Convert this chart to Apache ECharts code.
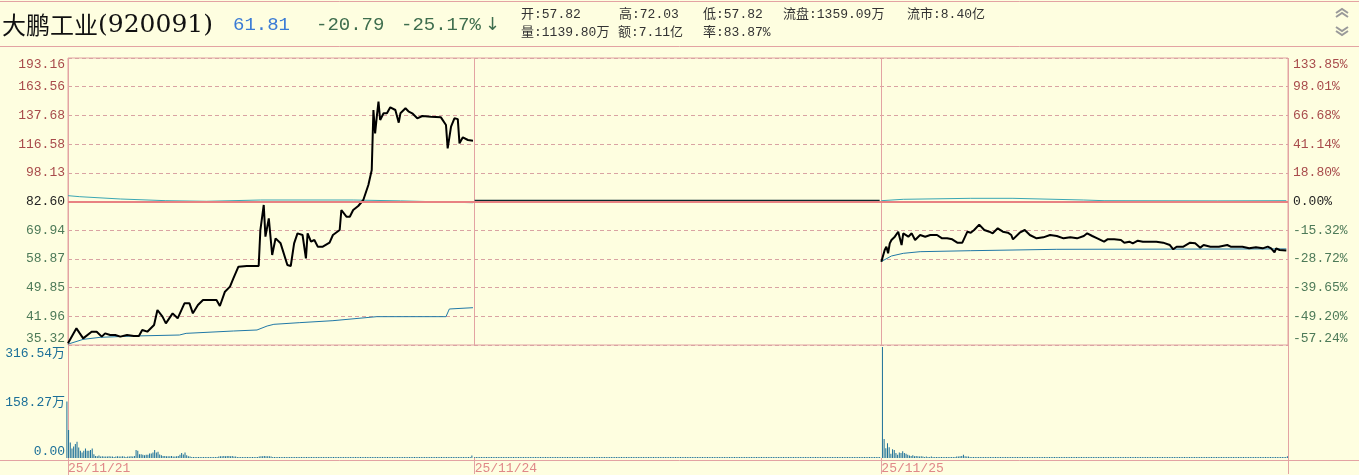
<!DOCTYPE html>
<html>
<head>
<meta charset="utf-8">
<title>大鹏工业(920091)</title>
<script src="https://cdn.jsdelivr.net/npm/echarts@6.0.0/dist/echarts.min.js"></script>
<style>
  html, body { margin: 0; padding: 0; background: #fefee0; }
  #chart { width: 1359px; height: 475px; }
</style>
</head>
<body>
<div id="chart"></div>
<script>
// 坐标刻度
var priceTicks = [35.32, 41.96, 49.85, 58.87, 69.94, 82.60, 98.13, 116.58, 137.68, 163.56, 193.16];
var pctTicks = ['-57.24%', '-49.20%', '-39.65%', '-28.72%', '-15.32%', '0.00%', '18.80%', '41.14%', '66.68%', '98.01%', '133.85%'];
var volTicks = ['0.00', '158.27万', '316.54万'];
var volMax = 316.54;
var dateLabels = ['25/11/21', '25/11/24', '25/11/25'];
var preClose = 82.60;
var dayLen = 241;

// 分时价格 [分钟, 价格]
var day1Price = [[0, 35.67], [5, 38.98], [7, 37.84], [9, 36.74], [14, 38.22], [17, 38.22], [20, 37.11], [22, 37.84],
  [25, 37.47], [28, 37.47], [31, 37.11], [35, 37.47], [39, 37.25], [42, 37.25], [44, 38.60], [47, 38.22],
  [51, 39.76], [53, 43.45], [56, 41.77], [58, 40.15], [62, 42.60], [65, 41.36], [69, 45.20], [72, 45.20],
  [74, 42.60], [77, 44.76], [80, 46.10], [88, 46.10], [90, 44.49], [93, 48.43], [96, 49.89], [98, 52.41],
  [101, 56.16], [106, 56.38], [113, 56.38], [114, 69.77], [116, 80.90], [117, 67.07], [119, 74.77], [121, 60.17],
  [123, 66.41], [126, 64.48], [130, 56.72], [132, 56.38], [134, 64.48], [136, 68.41], [139, 67.74], [141, 59.00],
  [142, 68.41], [144, 65.12], [146, 65.77], [148, 63.22], [151, 63.22], [155, 64.73], [157, 67.74], [161, 69.77],
  [162, 78.54], [165, 75.50], [167, 75.50], [169, 78.54], [172, 80.43], [175, 83.33], [178, 91.07], [180, 99.53],
  [181, 141.98], [182, 123.66], [183, 136.49], [184, 149.17], [185, 133.82], [187, 139.21], [189, 139.21], [191, 144.24],
  [194, 141.98], [196, 131.73], [197, 139.21], [200, 143.39], [202, 140.57], [204, 139.21], [207, 135.15], [210, 137.02],
  [215, 136.49], [221, 135.95], [224, 129.91], [225, 113.15], [227, 128.63], [229, 135.15], [231, 134.50], [232, 116.55],
  [234, 120.77], [237, 118.87], [240, 118.41]];
var day2Price = [[0, 82.95], [240, 82.95]];
var day3Price = [[0, 57.82], [2, 61.98], [3, 63.22], [4, 60.77], [5, 64.48], [6, 65.77], [8, 67.07], [10, 69.08],
  [12, 63.84], [13, 68.41], [14, 67.74], [16, 67.07], [18, 68.41], [20, 65.77], [23, 67.74], [26, 67.07],
  [29, 67.74], [33, 67.74], [36, 66.41], [39, 66.41], [42, 66.02], [45, 64.73], [48, 64.73], [51, 69.08],
  [53, 68.68], [55, 69.77], [58, 72.03], [61, 69.77], [64, 69.08], [66, 68.41], [69, 70.47], [72, 69.08],
  [75, 68.68], [77, 67.74], [78, 66.02], [82, 68.68], [85, 69.77], [88, 67.74], [92, 66.41], [96, 66.81],
  [100, 67.74], [104, 67.34], [108, 66.41], [112, 66.81], [116, 66.41], [120, 67.34], [122, 68.41], [125, 67.34],
  [128, 66.41], [132, 65.12], [134, 66.02], [138, 66.02], [142, 65.77], [144, 64.73], [147, 65.12], [149, 64.48],
  [152, 65.50], [155, 65.12], [159, 65.12], [163, 65.12], [167, 64.73], [171, 63.84], [173, 62.23], [175, 63.22],
  [179, 63.22], [183, 64.73], [186, 64.48], [189, 62.85], [191, 63.84], [195, 63.22], [200, 63.22], [205, 63.84],
  [207, 63.22], [210, 63.22], [214, 63.22], [218, 62.60], [222, 62.98], [226, 62.60], [229, 63.22], [231, 62.60],
  [233, 61.13], [234, 62.60], [236, 61.98], [240, 61.81]];

// 均价线
var day1Avg = [[0, 35.50], [9, 36.52], [19, 36.96], [39, 37.25], [66, 37.47], [70, 37.84], [98, 38.37], [112, 38.60],
  [118, 39.52], [122, 39.92], [137, 40.31], [157, 40.79], [183, 41.77], [224, 41.77], [226, 43.71], [240, 44.05]];
var day3Avg = [[0, 57.90], [6, 59.82], [13, 60.77], [23, 61.37], [53, 61.73], [104, 62.23], [240, 62.38]];

// 叠加指数(折算到价格)
var day1Index = [[0, 85.50], [7, 84.98], [31, 83.83], [58, 83.00], [82, 82.70], [114, 83.33], [169, 83.33], [197, 82.91], [240, 82.00]];
var day2Index = [[0, 82.50], [40, 82.30], [80, 82.50], [120, 82.30], [160, 82.40], [200, 82.50], [240, 82.40]];
var day3Index = [[0, 83.00], [13, 83.68], [53, 84.17], [78, 84.17], [120, 83.33], [132, 83.00], [199, 82.91], [240, 83.00]];

// 成交量(万), 每分钟一根
var day1Vol = [161, 80, 44, 27, 33, 40, 46, 30, 21, 16, 21, 27, 21, 21, 23, 27, 11, 6, 5, 7,
  4, 5, 4, 4, 4, 5, 4, 4, 3, 4, 5, 4, 4, 5, 4, 3, 4, 4, 5, 4,
  6, 23, 21, 11, 11, 9, 8, 9, 9, 13, 13, 16, 23, 16, 18, 10, 8, 6, 6, 5,
  5, 5, 6, 4, 4, 5, 6, 9, 14, 10, 16, 8, 5, 4, 3, 3, 3, 3, 2, 3,
  2, 3, 2, 2, 3, 2, 2, 3, 2, 3, 4, 5, 5, 6, 5, 6, 6, 5, 6, 4,
  4, 3, 2, 2, 2, 2, 2, 2, 2, 2, 2, 2, 3, 3, 4, 5, 5, 6, 5, 5,
  5, 4, 3, 2, 2, 2, 1, 2, 1, 2, 2, 1, 2, 2, 1, 2, 1, 2, 2, 1,
  2, 1, 1, 2, 2, 1, 2, 1, 2, 2, 1, 2, 1, 1, 2, 2, 1, 2, 2, 1,
  1, 2, 2, 1, 2, 1, 2, 2, 1, 2, 1, 1, 2, 2, 1, 2, 2, 1, 2, 1,
  2, 2, 1, 2, 1, 2, 2, 1, 1, 2, 2, 1, 2, 1, 2, 2, 1, 2, 1, 2,
  2, 1, 2, 2, 1, 2, 1, 1, 2, 2, 1, 2, 2, 1, 2, 1, 2, 2, 1, 2,
  1, 2, 2, 1, 2, 2, 1, 2, 1, 2, 2, 1, 2, 1, 2, 2, 1, 2, 1, 2,
  7];
var day2Vol = [1, 1, 1, 1, 1, 1, 1, 1, 1, 1, 1, 1, 1, 1, 1, 1, 1, 1, 1, 1,
  1, 1, 1, 1, 1, 1, 1, 1, 1, 1, 1, 1, 1, 1, 1, 1, 1, 1, 1, 1,
  1, 1, 1, 1, 1, 1, 1, 1, 1, 1, 1, 1, 1, 1, 1, 1, 1, 1, 1, 1,
  1, 1, 1, 1, 1, 1, 1, 1, 1, 1, 1, 1, 1, 1, 1, 1, 1, 1, 1, 1,
  1, 1, 1, 1, 1, 1, 1, 1, 1, 1, 1, 1, 1, 1, 1, 1, 1, 1, 1, 1,
  1, 1, 1, 1, 1, 1, 1, 1, 1, 1, 1, 1, 1, 1, 1, 1, 1, 1, 1, 1,
  1, 1, 1, 1, 1, 1, 1, 1, 1, 1, 1, 1, 1, 1, 1, 1, 1, 1, 1, 1,
  1, 1, 1, 1, 1, 1, 1, 1, 1, 1, 1, 1, 1, 1, 1, 1, 1, 1, 1, 1,
  1, 1, 1, 1, 1, 1, 1, 1, 1, 1, 1, 1, 1, 1, 1, 1, 1, 1, 1, 1,
  1, 1, 1, 1, 1, 1, 1, 1, 1, 1, 1, 1, 1, 1, 1, 1, 1, 1, 1, 1,
  1, 1, 1, 1, 1, 1, 1, 1, 1, 1, 1, 1, 1, 1, 1, 1, 1, 1, 1, 1,
  1, 1, 1, 1, 1, 1, 1, 1, 1, 1, 1, 1, 1, 1, 1, 1, 1, 1, 1, 1,
  1];
var day3Vol = [316.54, 54, 28, 42, 31, 12, 25, 23, 14, 9, 16, 14, 19, 14, 12, 9, 7, 6, 8, 5,
  6, 5, 4, 5, 4, 3, 4, 3, 3, 4, 3, 3, 2, 3, 3, 2, 3, 2, 3, 3,
  3, 2, 3, 3, 4, 4, 5, 6, 9, 5, 4, 4, 3, 3, 2, 3, 2, 2, 3, 2,
  2, 3, 2, 2, 3, 2, 2, 2, 3, 2, 2, 2, 3, 2, 2, 3, 2, 2, 2, 3,
  2, 2, 3, 2, 2, 2, 3, 2, 2, 2, 2, 3, 2, 2, 2, 3, 2, 2, 3, 2,
  2, 2, 2, 3, 2, 2, 2, 2, 3, 2, 2, 2, 2, 3, 2, 2, 2, 3, 2, 2,
  2, 3, 2, 2, 2, 2, 3, 2, 2, 2, 2, 2, 3, 2, 2, 2, 3, 2, 2, 2,
  2, 2, 3, 2, 2, 2, 2, 3, 2, 2, 2, 2, 2, 3, 2, 2, 2, 2, 3, 2,
  2, 2, 2, 3, 2, 2, 2, 2, 2, 3, 2, 2, 2, 2, 3, 2, 2, 2, 2, 2,
  3, 2, 2, 2, 2, 2, 3, 2, 2, 2, 2, 3, 2, 2, 2, 2, 2, 3, 2, 2,
  2, 2, 3, 2, 2, 2, 2, 2, 3, 2, 2, 2, 2, 3, 2, 2, 2, 2, 2, 3,
  2, 2, 2, 2, 3, 2, 2, 2, 2, 3, 2, 2, 2, 2, 2, 3, 2, 2, 2, 2,
  5];

var upColor = '#a84b4b';
var downColor = '#4d7a58';
var frameColor = '#e3a3a3';
var gridColor = '#d9a3a3';
var monoFont = '"Liberation Mono", "Noto Sans CJK SC", monospace';

// 对数价格 -> 刻度序号(0..10)
var logSpan = Math.log(priceTicks[10] / priceTicks[0]);
function pos(p) {
  return 10 * Math.log(p / priceTicks[0]) / logSpan;
}
function toLine(list, day) {
  return list.map(function (d) { return [d[0] + day * dayLen, pos(d[1])]; });
}
function toBars(list, day) {
  return list.map(function (v, i) { return [i + day * dayLen, v]; });
}
function styled(i, text) {
  var key = i > 5 ? 'u' : (i < 5 ? 'd' : 'z');
  return '{' + key + '|' + text + '}';
}
var labelRich = {
  u: { color: upColor, fontFamily: monoFont, fontSize: 13 },
  d: { color: downColor, fontFamily: monoFont, fontSize: 13 },
  z: { color: '#222', fontFamily: monoFont, fontSize: 13 }
};

function priceLine(data, color, width, z) {
  return {
    type: 'line', xAxisIndex: 0, yAxisIndex: 0, data: data,
    symbol: 'none', showSymbol: false, z: z, silent: true,
    lineStyle: { color: color, width: width }
  };
}

var chart = echarts.init(document.getElementById('chart'));

var indexColor = '#3aa7b4';
var avgColor = '#2078a6';

var series = [
  priceLine(toLine(day1Index, 0), indexColor, 1, 2),
  priceLine(toLine(day2Index, 1), indexColor, 1, 2),
  priceLine(toLine(day3Index, 2), indexColor, 1, 2),
  priceLine(toLine(day1Avg, 0), avgColor, 1, 3),
  priceLine(toLine(day3Avg, 2), avgColor, 1, 3),
  priceLine(toLine(day1Price, 0), '#000', 2, 4),
  priceLine(toLine(day2Price, 1), '#0b2a2e', 2, 4),
  priceLine(toLine(day3Price, 2), '#000', 2, 4)
];
series[0].markLine = {
  silent: true, symbol: 'none', label: { show: false },
  lineStyle: { color: '#e88282', width: 2, type: 'solid' },
  data: [{ yAxis: pos(preClose) }]
};
series[0].z = 1;

[day1Vol, day2Vol, day3Vol].forEach(function (vol, day) {
  series.push({
    type: 'bar', xAxisIndex: 1, yAxisIndex: 2, data: toBars(vol, day),
    barWidth: 1, barMinHeight: 1, silent: true,
    itemStyle: { color: '#1b6f98' }
  });
});

var option = {
  animation: false,
  backgroundColor: '#fefee0',
  grid: [
    { left: 68, top: 58, width: 1220, height: 287, show: true, borderColor: frameColor, borderWidth: 1 },
    { left: 68, top: 347, width: 1220, height: 112 }
  ],
  xAxis: [
    {
      type: 'value', gridIndex: 0, min: 0, max: dayLen * 3, interval: dayLen,
      axisLine: { show: false }, axisTick: { show: false }, axisLabel: { show: false },
      splitLine: { show: true, lineStyle: { color: frameColor, width: 1 } }
    },
    {
      type: 'value', gridIndex: 1, min: 0, max: dayLen * 3, interval: dayLen,
      axisLine: { show: false }, splitLine: { show: false },
      axisTick: { show: true, length: 16, lineStyle: { color: frameColor } },
      axisLabel: {
        align: 'left', margin: 4, color: '#e08888', fontSize: 13, fontFamily: monoFont,
        formatter: function (v) { return dateLabels[Math.round(v / dayLen)] || ''; }
      }
    }
  ],
  yAxis: [
    {
      type: 'value', gridIndex: 0, position: 'left', min: 0, max: 10, interval: 1,
      axisLine: { show: false }, axisTick: { show: false },
      splitLine: { show: true, lineStyle: { color: gridColor, type: [4, 3], width: 1 } },
      axisLabel: {
        margin: 3, rich: labelRich,
        verticalAlignMinLabel: 'bottom', verticalAlignMaxLabel: 'top',
        formatter: function (v) { var i = Math.round(v); return styled(i, priceTicks[i].toFixed(2)); }
      }
    },
    {
      type: 'value', gridIndex: 0, position: 'right', min: 0, max: 10, interval: 1,
      axisLine: { show: false }, axisTick: { show: false }, splitLine: { show: false },
      axisLabel: {
        margin: 5, rich: labelRich,
        verticalAlignMinLabel: 'bottom', verticalAlignMaxLabel: 'top',
        formatter: function (v) { var i = Math.round(v); return styled(i, pctTicks[i]); }
      }
    },
    {
      type: 'value', gridIndex: 1, min: 0, max: volMax, interval: volMax / 2,
      axisLine: { show: false }, axisTick: { show: false }, splitLine: { show: false },
      axisLabel: {
        margin: 3, color: '#1b6f98', fontSize: 13, fontFamily: monoFont,
        verticalAlignMinLabel: 'bottom', verticalAlignMaxLabel: 'top',
        formatter: function (v) { return volTicks[Math.round(v / (volMax / 2))]; }
      }
    }
  ],
  graphic: [
    { type: 'rect', shape: { x: 0, y: 0, width: 1359, height: 47 }, style: { fill: '#fefee0' }, z: -1 },
    { type: 'line', shape: { x1: 0, y1: 1.5, x2: 1359, y2: 1.5 }, style: { stroke: frameColor, lineWidth: 1 } },
    { type: 'line', shape: { x1: 0, y1: 46.5, x2: 1359, y2: 46.5 }, style: { stroke: frameColor, lineWidth: 1 } },
    { type: 'line', shape: { x1: 68.5, y1: 345, x2: 68.5, y2: 475 }, style: { stroke: frameColor, lineWidth: 1 } },
    { type: 'line', shape: { x1: 1288.5, y1: 345, x2: 1288.5, y2: 461 }, style: { stroke: frameColor, lineWidth: 1 } },
    { type: 'line', shape: { x1: 0, y1: 460.5, x2: 1359, y2: 460.5 }, style: { stroke: frameColor, lineWidth: 1 } },
    {
      type: 'text', x: 2, y: 25,
      style: {
        text: '{n|大鹏工业}{c|(920091)}', verticalAlign: 'middle', textVerticalAlign: 'middle',
        rich: {
          n: { fontSize: 24, fontFamily: '"Noto Sans CJK SC"', fill: '#111' },
          c: { fontSize: 25, fontFamily: '"DejaVu Serif"', fill: '#111' }
        }
      }
    },
    { type: 'text', x: 233, y: 25, style: { text: '61.81', font: '19px "Liberation Mono"', fill: '#3a7bd5', verticalAlign: 'middle', textVerticalAlign: 'middle' } },
    { type: 'text', x: 316, y: 25, style: { text: '-20.79', font: '19px "Liberation Mono"', fill: '#3f6e4e', verticalAlign: 'middle', textVerticalAlign: 'middle' } },
    { type: 'text', x: 401, y: 25, style: { text: '-25.17%', font: '19px "Liberation Mono"', fill: '#3f6e4e', verticalAlign: 'middle', textVerticalAlign: 'middle' } },
    { type: 'text', x: 485, y: 25, style: { text: '↓', font: '18px "DejaVu Sans"', fill: '#3f6e4e', verticalAlign: 'middle', textVerticalAlign: 'middle' } },
    { type: 'text', x: 521, y: 15, style: { text: '开:57.82', font: '13px ' + monoFont, fill: '#333', verticalAlign: 'middle', textVerticalAlign: 'middle' } },
    { type: 'text', x: 619, y: 15, style: { text: '高:72.03', font: '13px ' + monoFont, fill: '#333', verticalAlign: 'middle', textVerticalAlign: 'middle' } },
    { type: 'text', x: 703, y: 15, style: { text: '低:57.82', font: '13px ' + monoFont, fill: '#333', verticalAlign: 'middle', textVerticalAlign: 'middle' } },
    { type: 'text', x: 783, y: 15, style: { text: '流盘:1359.09万', font: '13px ' + monoFont, fill: '#333', verticalAlign: 'middle', textVerticalAlign: 'middle' } },
    { type: 'text', x: 907, y: 15, style: { text: '流市:8.40亿', font: '13px ' + monoFont, fill: '#333', verticalAlign: 'middle', textVerticalAlign: 'middle' } },
    { type: 'text', x: 521, y: 33, style: { text: '量:1139.80万', font: '13px ' + monoFont, fill: '#333', verticalAlign: 'middle', textVerticalAlign: 'middle' } },
    { type: 'text', x: 618, y: 33, style: { text: '额:7.11亿', font: '13px ' + monoFont, fill: '#333', verticalAlign: 'middle', textVerticalAlign: 'middle' } },
    { type: 'text', x: 703, y: 33, style: { text: '率:83.87%', font: '13px ' + monoFont, fill: '#333', verticalAlign: 'middle', textVerticalAlign: 'middle' } },
    { type: 'polyline', shape: { points: [[1336, 13], [1342, 9], [1348, 13]] }, style: { stroke: '#9a9a9a', lineWidth: 2, fill: null } },
    { type: 'polyline', shape: { points: [[1336, 17], [1342, 13], [1348, 17]] }, style: { stroke: '#9a9a9a', lineWidth: 2, fill: null } },
    { type: 'polyline', shape: { points: [[1336, 27], [1342, 31], [1348, 27]] }, style: { stroke: '#9a9a9a', lineWidth: 2, fill: null } },
    { type: 'polyline', shape: { points: [[1336, 31], [1342, 35], [1348, 31]] }, style: { stroke: '#9a9a9a', lineWidth: 2, fill: null } }
  ],
  series: series
};

chart.setOption(option);
</script>
</body>
</html>
